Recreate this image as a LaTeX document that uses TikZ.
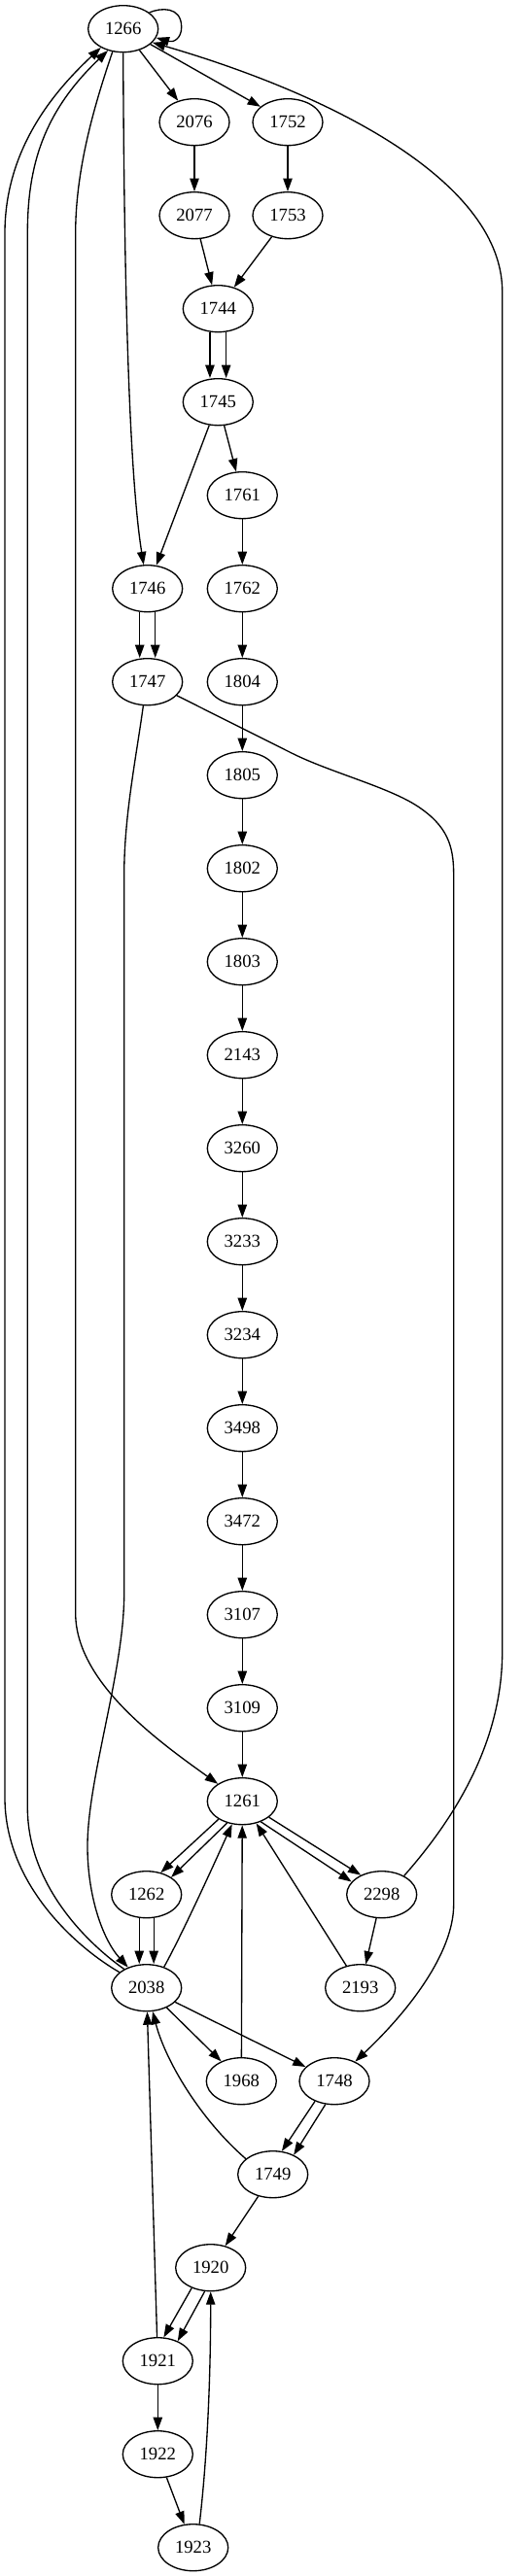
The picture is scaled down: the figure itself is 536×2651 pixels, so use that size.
\documentclass[tikz,border=0pt]{standalone}
\usepackage{fontspec}
\setmainfont{Liberation Serif}
\usetikzlibrary{shapes.geometric,arrows.meta}
\begin{document}
\begin{tikzpicture}[x=0.75pt,y=-0.75pt,
  nd/.style={draw,ellipse,minimum width=54pt,minimum height=36pt,inner sep=0pt,line width=1pt,font=\fontsize{14pt}{16pt}\selectfont},
  edge/.style={line width=1pt,-{Triangle[length=10pt,width=7pt]}}]
\useasboundingbox (0,0) rectangle (536,2651);
% nodes
\node[nd] (n1266) at (126.7,29.7) {1266};
\node[nd] (n2076) at (200,125.7) {2076};
\node[nd] (n1752) at (296,125.7) {1752};
\node[nd] (n2077) at (200,221.7) {2077};
\node[nd] (n1753) at (296,221.7) {1753};
\node[nd] (n1744) at (224.3,317.7) {1744};
\node[nd] (n1745) at (224.3,413.7) {1745};
\node[nd] (n1761) at (249.3,509.7) {1761};
\node[nd] (n1746) at (151.7,605.7) {1746};
\node[nd] (n1762) at (249.3,605.7) {1762};
\node[nd] (n1747) at (151.7,701.7) {1747};
\node[nd] (n1804) at (249.3,701.7) {1804};
\node[nd] (n1805) at (249.3,797.7) {1805};
\node[nd] (n1802) at (249.3,893.7) {1802};
\node[nd] (n1803) at (249.3,989.7) {1803};
\node[nd] (n2143) at (249.3,1085.7) {2143};
\node[nd] (n3260) at (249.3,1181.7) {3260};
\node[nd] (n3233) at (249.3,1277.7) {3233};
\node[nd] (n3234) at (249.3,1373.7) {3234};
\node[nd] (n3498) at (249.3,1469.7) {3498};
\node[nd] (n3472) at (249.3,1565.7) {3472};
\node[nd] (n3107) at (249.3,1661.7) {3107};
\node[nd] (n3109) at (249.3,1757.7) {3109};
\node[nd] (n1261) at (249.3,1853.7) {1261};
\node[nd] (n1262) at (150.7,1949.7) {1262};
\node[nd] (n2298) at (392.7,1949.7) {2298};
\node[nd] (n2038) at (150.7,2045.7) {2038};
\node[nd] (n2193) at (370.7,2045.7) {2193};
\node[nd] (n1968) at (248.3,2141.7) {1968};
\node[nd] (n1748) at (344,2141.7) {1748};
\node[nd] (n1749) at (280.7,2237.7) {1749};
\node[nd] (n1920) at (216.7,2333.7) {1920};
\node[nd] (n1921) at (162.3,2429.7) {1921};
\node[nd] (n1922) at (162.3,2525.7) {1922};
\node[nd] (n1923) at (198.7,2621.7) {1923};
% edges
\draw[edge] (n1266.32) .. controls (165,8) and (186.7,6) .. (186.7,28) .. controls (186.7,40) and (178,44) .. (n1266.-15);
\draw[edge] (n1266) -- (n2076);
\draw[edge] (n1266) -- (n1752);
\draw[edge] (n2298.40) .. controls (460,1880) and (516.7,1800) .. (516.7,1700) -- (516.7,300) .. controls (516.7,190) and (350,100) .. (n1266.-25);
\draw[edge] (n2076) -- (n2077);
\draw[edge] (n1752) -- (n1753);
\draw[edge] (n2077) -- (n1744);
\draw[edge] (n1753) -- (n1744);
\draw[edge] ([xshift=-6.25pt]n1744.south) -- ([xshift=-6.25pt]n1745.north);
\draw[edge] ([xshift=6.25pt]n1744.south) -- ([xshift=6.25pt]n1745.north);
\draw[edge] (n1745) -- (n1761);
\draw[edge] (n1745) -- (n1746);
\draw[edge] (n1266.south) .. controls (128,400) and (138,520) .. (n1746);
\draw[edge] ([xshift=-6pt]n1746.south) -- ([xshift=-6pt]n1747.north);
\draw[edge] ([xshift=6pt]n1746.south) -- ([xshift=6pt]n1747.north);
\draw[edge] (n1761) -- (n1762);
\draw[edge] (n1762) -- (n1804);
\draw[edge] (n1804) -- (n1805);
\draw[edge] (n1805) -- (n1802);
\draw[edge] (n1802) -- (n1803);
\draw[edge] (n1803) -- (n2143);
\draw[edge] (n2143) -- (n3260);
\draw[edge] (n3260) -- (n3233);
\draw[edge] (n3233) -- (n3234);
\draw[edge] (n3234) -- (n3498);
\draw[edge] (n3498) -- (n3472);
\draw[edge] (n3472) -- (n3107);
\draw[edge] (n3107) -- (n3109);
\draw[edge] (n3109) -- (n1261);
\draw[edge] (n1747.-25) -- (300,775) .. controls (340,795) and (400,810) .. (430,830) .. controls (460,850) and (466.7,870) .. (466.7,900) -- (466.7,1960) .. controls (466.7,2010) and (420,2070) .. (n1748);
\draw[edge] (n1747.-100) .. controls (140,780) and (127.7,840) .. (127.7,900) -- (127.7,1640) .. controls (127.7,1720) and (90,1830) .. (90,1900) .. controls (90,1950) and (105,1995) .. (n2038);
\draw[edge] (n1266.-115) .. controls (100,100) and (77.7,170) .. (77.7,240) -- (77.7,1660) .. controls (77.7,1730) and (160,1790) .. (n1261);
\draw[edge] (n2038.150) .. controls (80,2005) and (5,1940) .. (5,1850) -- (5,240) .. controls (5,150) and (60,90) .. (n1266.-140);
\draw[edge] (n2038.140) .. controls (90,2000) and (28.3,1940) .. (28.3,1860) -- (28.3,240) .. controls (28.3,170) and (45,115) .. (n1266.-125);
\draw[edge] (n1261.217) -- (n1262.57);
\draw[edge] (n1261.235) -- (n1262.35);
\draw[edge] (n1261.-31) -- (n2298.137);
\draw[edge] (n1261.-48) -- (n2298.157);
\draw[edge] ([xshift=-5.6pt]n1262.south) -- ([xshift=-5.6pt]n2038.north);
\draw[edge] ([xshift=5.6pt]n1262.south) -- ([xshift=5.6pt]n2038.north);
\draw[edge] (n2038.50) .. controls (185,1995) and (215,1930) .. (n1261);
\draw[edge] (n1968) -- (n1261);
\draw[edge] (n2193) -- (n1261);
\draw[edge] (n2298) -- (n2193);
\draw[edge] (n2038) -- (n1968);
\draw[edge] (n2038) -- (n1748);
\draw[edge] (n1748.226) -- (n1749.69);
\draw[edge] (n1748.249) -- (n1749.43);
\draw[edge] (n1749.150) .. controls (205,2180) and (170,2120) .. (n2038);
\draw[edge] (n1921) -- (n2038);
\draw[edge] (n1749) -- (n1920);
\draw[edge] (n1920.227) -- (n1921.76);
\draw[edge] (n1920.256) -- (n1921.45);
\draw[edge] (n1921) -- (n1922);
\draw[edge] (n1922) -- (n1923);
\draw[edge] (n1923.75) .. controls (212,2540) and (216.7,2460) .. (n1920);
\end{tikzpicture}
\end{document}
